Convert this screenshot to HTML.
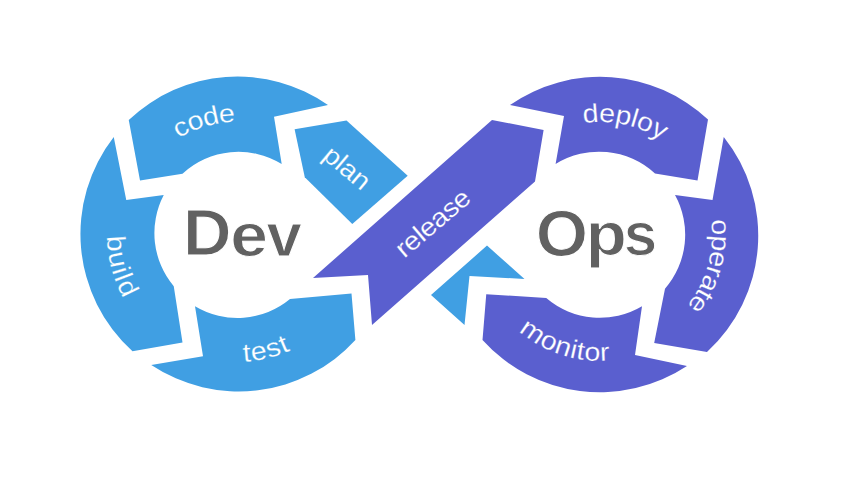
<!DOCTYPE html>
<html><head><meta charset="utf-8"><style>
html,body{margin:0;padding:0;background:#fff;width:850px;height:480px;overflow:hidden}
svg{display:block}
.lb{fill:#fff;stroke-width:0.2px;font-family:"Liberation Sans",sans-serif}
.big{fill:#616161;stroke:#fff;stroke-width:1px;font-family:"Liberation Sans",sans-serif;font-weight:bold}
</style></head><body>
<svg width="850" height="480" viewBox="0 0 850 480">
<path fill="#409fe3" d="M128.75 120 A158 158 0 0 1 328 105 L274 116.7 L281.7 164 A82.5 82.5 0 0 0 182.5 173.75 L140 180.5 Z"/><path fill="#409fe3" d="M113.75 137 L126.25 200 L163.75 195 A82.5 82.5 0 0 0 173.75 286.25 L182.5 342.5 L132.5 351.25 A158 158 0 0 1 113.75 137 Z"/><path fill="#409fe3" d="M195 306.25 A82.5 82.5 0 0 0 290 299 L351.5 293.5 L355.4 340 A158 158 0 0 1 151.25 365 L203 356.25 Z"/><path fill="#409fe3" d="M294.6 129.2 L346.5 120.4 L407.7 175.8 L352.3 223.9 L304.8 177.3 Z"/><path fill="#409fe3" d="M487 245.6 L524.5 279 L469.5 276 L464.5 325 L431 295 Z"/><path fill="#5a5fcf" d="M492 120 L543.6 130 L535 181.5 L372 325 L368 275 L313 278 Z"/><path fill="#5a5fcf" d="M510 105 A158 158 0 0 1 708 119.5 L697.5 180.5 L655 173.5 A82.5 82.5 0 0 0 555.6 164 L564 116 Z"/><path fill="#5a5fcf" d="M723.75 137 A158 158 0 0 1 707 352 L654.2 343 L665 288.75 A82.5 82.5 0 0 0 675 195 L712.5 200 Z"/><path fill="#5a5fcf" d="M486.25 294.25 L546.25 298 A82.5 82.5 0 0 0 642 306.25 L635 355 L687 366 A158 158 0 0 1 482.5 340 Z"/>
<text class="lb" font-size="26" text-anchor="middle" stroke="#409fe3" transform="translate(184.67 134.85) rotate(-27.59) scale(1.1 1)">c</text><text class="lb" font-size="26" text-anchor="middle" stroke="#409fe3" transform="translate(197.85 129) rotate(-20.27) scale(1.1 1)">o</text><text class="lb" font-size="26" text-anchor="middle" stroke="#409fe3" transform="translate(212.46 124.7) rotate(-12.54) scale(1.1 1)">d</text><text class="lb" font-size="26" text-anchor="middle" stroke="#409fe3" transform="translate(227.51 122.4) rotate(-4.82) scale(1.1 1)">e</text><text class="lb" font-size="26" text-anchor="middle" stroke="#409fe3" transform="translate(107.32 244.15) rotate(85.96) scale(1.1 1)">b</text><text class="lb" font-size="26" text-anchor="middle" stroke="#409fe3" transform="translate(109.65 261.14) rotate(78.4) scale(1.1 1)">u</text><text class="lb" font-size="26" text-anchor="middle" stroke="#409fe3" transform="translate(112.72 273.13) rotate(72.95) scale(1.1 1)">i</text><text class="lb" font-size="26" text-anchor="middle" stroke="#409fe3" transform="translate(115.16 280.33) rotate(69.59) scale(1.1 1)">l</text><text class="lb" font-size="26" text-anchor="middle" stroke="#409fe3" transform="translate(120.02 291.71) rotate(64.14) scale(1.1 1)">d</text><text class="lb" font-size="26" text-anchor="middle" stroke="#409fe3" transform="translate(247.42 361.57) rotate(-4.71) scale(1.1 1)">t</text><text class="lb" font-size="26" text-anchor="middle" stroke="#409fe3" transform="translate(260.1 359.88) rotate(-10.48) scale(1.1 1)">e</text><text class="lb" font-size="26" text-anchor="middle" stroke="#409fe3" transform="translate(275.58 356) rotate(-17.68) scale(1.1 1)">s</text><text class="lb" font-size="26" text-anchor="middle" stroke="#409fe3" transform="translate(286.82 351.82) rotate(-23.09) scale(1.1 1)">t</text><text class="lb" font-size="26" text-anchor="middle" stroke="#5a5fcf" transform="translate(591.08 122.35) rotate(-4.53) scale(1.1 1)">d</text><text class="lb" font-size="26" text-anchor="middle" stroke="#5a5fcf" transform="translate(606.57 122.19) rotate(3.34) scale(1.1 1)">e</text><text class="lb" font-size="26" text-anchor="middle" stroke="#5a5fcf" transform="translate(621.94 124.15) rotate(11.2) scale(1.1 1)">p</text><text class="lb" font-size="26" text-anchor="middle" stroke="#5a5fcf" transform="translate(632.36 126.73) rotate(16.64) scale(1.1 1)">l</text><text class="lb" font-size="26" text-anchor="middle" stroke="#5a5fcf" transform="translate(642.47 130.29) rotate(22.08) scale(1.1 1)">o</text><text class="lb" font-size="26" text-anchor="middle" stroke="#5a5fcf" transform="translate(655.7 136.68) rotate(29.53) scale(1.1 1)">y</text><text class="lb" font-size="26" text-anchor="middle" stroke="#5a5fcf" transform="translate(711.77 227.77) rotate(86.3) scale(1.1 1)">o</text><text class="lb" font-size="26" text-anchor="middle" stroke="#5a5fcf" transform="translate(711.72 242.86) rotate(94.02) scale(1.1 1)">p</text><text class="lb" font-size="26" text-anchor="middle" stroke="#5a5fcf" transform="translate(709.65 257.8) rotate(101.75) scale(1.1 1)">e</text><text class="lb" font-size="26" text-anchor="middle" stroke="#5a5fcf" transform="translate(706.62 269.3) rotate(107.84) scale(1.1 1)">r</text><text class="lb" font-size="26" text-anchor="middle" stroke="#5a5fcf" transform="translate(702.38 280.42) rotate(113.93) scale(1.1 1)">a</text><text class="lb" font-size="26" text-anchor="middle" stroke="#5a5fcf" transform="translate(697.37 290.34) rotate(119.61) scale(1.1 1)">t</text><text class="lb" font-size="26" text-anchor="middle" stroke="#5a5fcf" transform="translate(691.41 299.72) rotate(125.3) scale(1.1 1)">e</text><text class="lb" font-size="26" text-anchor="middle" stroke="#5a5fcf" transform="translate(528 338.4) rotate(34.85) scale(1.1 1)">m</text><text class="lb" font-size="26" text-anchor="middle" stroke="#5a5fcf" transform="translate(545.58 348.64) rotate(25.59) scale(1.1 1)">o</text><text class="lb" font-size="26" text-anchor="middle" stroke="#5a5fcf" transform="translate(560.8 354.75) rotate(18.13) scale(1.1 1)">n</text><text class="lb" font-size="26" text-anchor="middle" stroke="#5a5fcf" transform="translate(572 357.85) rotate(12.84) scale(1.1 1)">i</text><text class="lb" font-size="26" text-anchor="middle" stroke="#5a5fcf" transform="translate(579.51 359.32) rotate(9.36) scale(1.1 1)">t</text><text class="lb" font-size="26" text-anchor="middle" stroke="#5a5fcf" transform="translate(591.85 360.74) rotate(3.71) scale(1.1 1)">o</text><text class="lb" font-size="26" text-anchor="middle" stroke="#5a5fcf" transform="translate(605.06 360.9) rotate(-2.3) scale(1.1 1)">r</text><text class="lb" font-size="26" text-anchor="middle" stroke="#409fe3" transform="translate(327.46 162.82) rotate(40) scale(1.1 1)">p</text><text class="lb" font-size="26" text-anchor="middle" stroke="#409fe3" transform="translate(335.6 169.65) rotate(40) scale(1.1 1)">l</text><text class="lb" font-size="26" text-anchor="middle" stroke="#409fe3" transform="translate(343.74 176.48) rotate(40) scale(1.1 1)">a</text><text class="lb" font-size="26" text-anchor="middle" stroke="#409fe3" transform="translate(355.54 186.38) rotate(40) scale(1.1 1)">n</text><text class="lb" font-size="26" text-anchor="middle" stroke="#5a5fcf" transform="translate(407.99 255.56) rotate(-40.5) scale(1.1 1)">r</text><text class="lb" font-size="26" text-anchor="middle" stroke="#5a5fcf" transform="translate(417.14 247.74) rotate(-40.5) scale(1.1 1)">e</text><text class="lb" font-size="26" text-anchor="middle" stroke="#5a5fcf" transform="translate(425.1 240.95) rotate(-40.5) scale(1.1 1)">l</text><text class="lb" font-size="26" text-anchor="middle" stroke="#5a5fcf" transform="translate(433.05 234.15) rotate(-40.5) scale(1.1 1)">e</text><text class="lb" font-size="26" text-anchor="middle" stroke="#5a5fcf" transform="translate(444.64 224.26) rotate(-40.5) scale(1.1 1)">a</text><text class="lb" font-size="26" text-anchor="middle" stroke="#5a5fcf" transform="translate(455.61 214.88) rotate(-40.5) scale(1.1 1)">s</text><text class="lb" font-size="26" text-anchor="middle" stroke="#5a5fcf" transform="translate(466.59 205.51) rotate(-40.5) scale(1.1 1)">e</text>
<text class="big" font-size="60" transform="matrix(1.12 0 0 1.07 183.1 255.4)">D</text><text class="big" font-size="60" transform="matrix(1.13 0 0 1.03 230.36 255.7)">e</text><text class="big" font-size="60" transform="matrix(1.06 0 0 1.02 266.5 255.5)">v</text><text class="big" font-size="60" transform="matrix(1.12 0 0 1.09 535.74 255.96)">O</text><text class="big" font-size="60" transform="matrix(1.12 0 0 1.01 585.77 255.04)">p</text><text class="big" font-size="60" transform="matrix(1 0 0 1.02 623.7 255.21)">s</text>
</svg>
</body></html>
